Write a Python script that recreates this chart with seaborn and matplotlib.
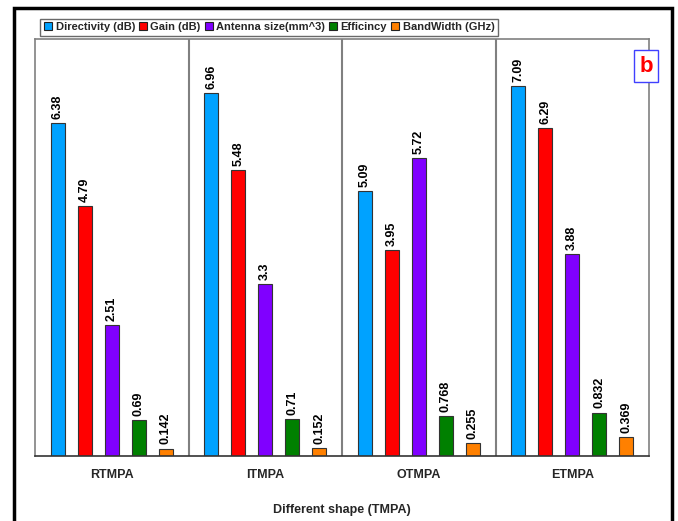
import matplotlib
matplotlib.use("Agg")
import matplotlib.pyplot as plt
import matplotlib.patches as mpatches
import seaborn as sns
import pandas as pd

shapes = ["RTMPA", "ITMPA", "OTMPA", "ETMPA"]
metrics = ["Directivity (dB)", "Gain (dB)", "Antenna size(mm^3)", "Efficincy", "BandWidth (GHz)"]
directivity = [6.38, 6.96, 5.09, 7.09]
gain = [4.79, 5.48, 3.95, 6.29]
antenna_size = [2.51, 3.3, 5.72, 3.88]
efficiency = [0.69, 0.71, 0.768, 0.832]
bandwidth = [0.142, 0.152, 0.255, 0.369]
colors = ["#00A2FF", "#FF0000", "#8000FF", "#008000", "#FF8000"]

series = [directivity, gain, antenna_size, efficiency, bandwidth]
df = pd.DataFrame(
    [(s, m, v) for m, vals in zip(metrics, series) for s, v in zip(shapes, vals)],
    columns=["shape", "metric", "value"],
)

sns.set_theme(style="white")
plt.rcParams["font.family"] = ["Liberation Sans", "DejaVu Sans"]

fig = plt.figure(figsize=(6.78, 5.21), dpi=100)
ax = fig.add_axes([35 / 678, 1 - 456 / 521, (649 - 35) / 678, (456 - 39) / 521])

sns.barplot(
    data=df, x="shape", y="value", hue="metric", order=shapes, hue_order=metrics,
    palette=colors, width=0.88, gap=0.48, ax=ax, legend=False,
    edgecolor="#333333", linewidth=0.8, saturation=1,
)

for cont in ax.containers:
    ax.bar_label(cont, fmt="{:g}", rotation=90, padding=3,
                 fontsize=9, fontweight="bold", color="black")

ax.set_ylim(0, 8)
ax.set_xlim(-0.5, len(shapes) - 0.5)
ax.set_yticks([])
ax.set_ylabel("")
ax.tick_params(axis="x", length=0, pad=9)
for lbl in ax.get_xticklabels():
    lbl.set_fontweight("bold")
    lbl.set_fontsize(9)
ax.set_xlabel("Different shape (TMPA)", fontsize=9, fontweight="bold", labelpad=17)

# group separators
for xs in [0.5, 1.5, 2.5]:
    ax.axvline(xs, color="#808080", lw=1.5, zorder=0)

for side in ["top", "left", "right"]:
    ax.spines[side].set_color("#808080")
    ax.spines[side].set_linewidth(1.2)
ax.spines["bottom"].set_color("#333333")
ax.spines["bottom"].set_linewidth(1.2)

# legend with square markers
handles = [plt.Line2D([], [], marker="s", linestyle="none", markersize=6,
                      markerfacecolor=c, markeredgecolor="#222222", markeredgewidth=0.8)
           for c in colors]
leg = fig.legend(handles, metrics, loc="upper left", bbox_to_anchor=(40 / 678, 1 - 19 / 521),
                 ncol=5, fontsize=8, frameon=True, fancybox=False, handlelength=0.8,
                 handletextpad=0.3, columnspacing=0.3, borderpad=0.3, borderaxespad=0)
for t in leg.get_texts():
    t.set_fontweight("bold")
leg.get_frame().set_edgecolor("#444444")
leg.get_frame().set_linewidth(1.0)

# panel tag
fig.text(646 / 678, 1 - 66 / 521, "b", color="#FF0000", fontsize=16, fontweight="bold",
         ha="center", va="center",
         bbox=dict(boxstyle="square,pad=0.25", facecolor="white", edgecolor="#4040FF", lw=1.0))

# figure frame
fig.patches.append(mpatches.Rectangle((14 / 678, -0.05), (672 - 14) / 678, 1.05 - 8 / 521,
                                      transform=fig.transFigure, fill=False,
                                      edgecolor="black", lw=2.5))

fig.savefig("out.png", dpi=100)
